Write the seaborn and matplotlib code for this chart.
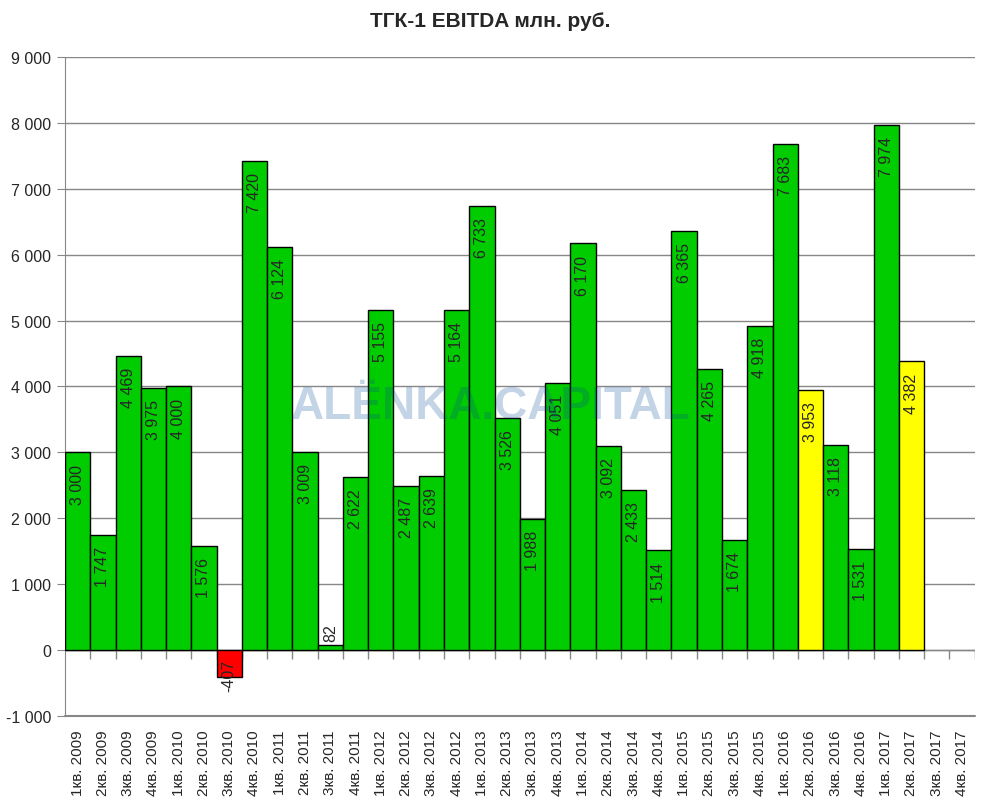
import numpy as np
import pandas as pd
import matplotlib
matplotlib.use("Agg")
import matplotlib.pyplot as plt
import seaborn as sns

# -----------------------------
# Data
# -----------------------------
quarters = [f"{q}кв. {y}" for y in range(2009, 2018) for q in range(1, 5)]
ebitda = [3000, 1747, 4469, 3975, 4000, 1576, -407, 7420,
          6124, 3009, 82, 2622, 5155, 2487, 2639, 5164,
          6733, 3526, 1988, 4051, 6170, 3092, 2433, 1514,
          6365, 4265, 1674, 4918, 7683, 3953, 3118, 1531,
          7974, 4382, np.nan, np.nan]
highlight = ["2кв. 2016", "2кв. 2017"]

df = pd.DataFrame({"Quarter": quarters, "EBITDA": ebitda})


def bar_color(q, v):
    if q in highlight:
        return "#FFFF00"
    if v < 0:
        return "#FF0000"
    return "#00CC00"


palette = {q: bar_color(q, v) for q, v in zip(quarters, ebitda)}

# -----------------------------
# Style
# -----------------------------
sns.set_style("white")
plt.rcParams['font.family'] = ['Liberation Sans', 'DejaVu Sans']

fig = plt.figure(figsize=(9.89, 8.03), dpi=100)
ax = fig.add_axes([0.0657, 0.1071, 0.9198, 0.8207])

sns.barplot(data=df.dropna(), x="Quarter", y="EBITDA", hue="Quarter", order=quarters,
            palette=palette, saturation=1, legend=False, width=1.0,
            edgecolor="black", linewidth=1, ax=ax, zorder=3)

ax.set_xlim(-0.5, len(quarters) - 0.5)
ax.set_ylim(-1000, 9000)
ax.set_yticks(range(-1000, 9001, 1000))
ax.set_yticklabels([f"{v:,}".replace(",", " ") for v in range(-1000, 9001, 1000)], fontsize=11.5)
ax.yaxis.grid(True, color="#878787", linewidth=1)
ax.set_axisbelow(True)
for s in ["top", "right", "bottom"]:
    ax.spines[s].set_visible(False)
ax.spines["left"].set_color("#878787")
ax.tick_params(axis="y", left=True, length=6, color="#878787", pad=4)
ax.tick_params(axis="x", bottom=False, pad=6)
ax.set_xticks(range(len(quarters)))
ax.set_xticklabels(quarters, rotation=90, fontsize=11)
ax.set_xlabel("")
ax.set_ylabel("")

# bottom gridline and category axis at zero with tick marks between categories
ax.axhline(-1000, color="#878787", linewidth=1.5, zorder=2, clip_on=False)
ax.axhline(0, color="#878787", linewidth=1, zorder=2)
ax.vlines(np.arange(0.5, len(quarters)), -130, 0, color="#878787", linewidth=1, zorder=2)

# value labels
for i, v in enumerate(ebitda):
    if np.isnan(v):
        continue
    txt = f"{int(v):,}".replace(",", " ")
    if v < 0:
        ax.annotate(txt, (i, 0), xytext=(0, -6), textcoords="offset points",
                    rotation=90, ha="center", va="top", fontsize=11.5, zorder=5)
    elif v < 500:
        ax.annotate(txt, (i, v), xytext=(0, 3), textcoords="offset points",
                    rotation=90, ha="center", va="bottom", fontsize=11.5, zorder=5)
    else:
        ax.annotate(txt, (i, v), xytext=(0, -8), textcoords="offset points",
                    rotation=90, ha="center", va="top", fontsize=11.5, zorder=5)

# watermark
fig.text(0.4965, 0.493, "ALЁNKA.CAPITAL", fontsize=33, fontweight="bold",
         color=(0, 70 / 255, 154 / 255), alpha=0.23, ha="center", va="center", zorder=10)

fig.suptitle("ТГК-1 EBITDA млн. руб.", fontsize=15, fontweight="bold", x=0.496, y=0.985)

plt.savefig("out.png", dpi=100)
